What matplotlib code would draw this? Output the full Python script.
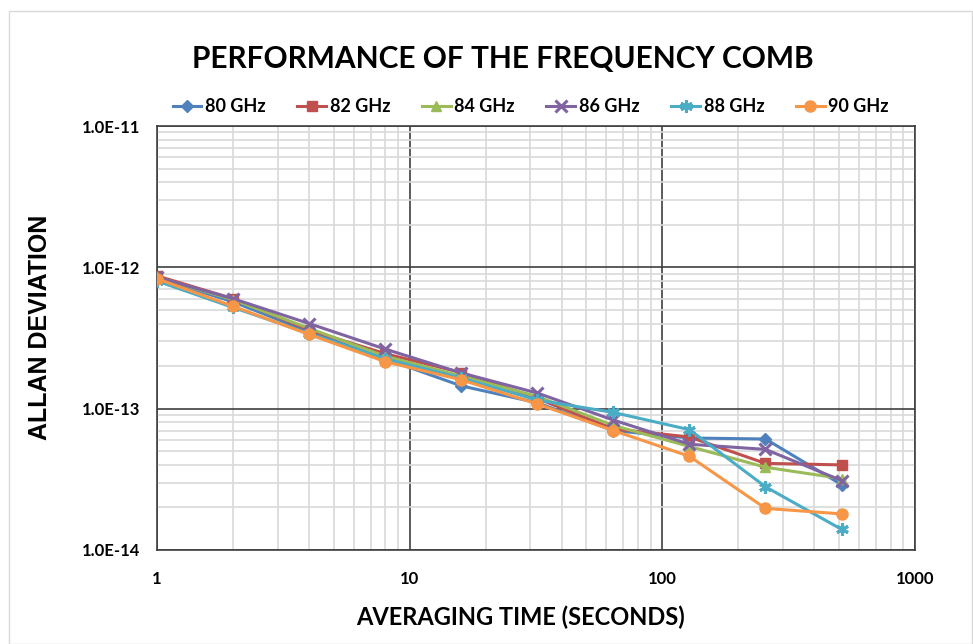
import matplotlib
matplotlib.use("Agg")
import matplotlib.pyplot as plt
from matplotlib.ticker import LogLocator, FixedLocator, NullFormatter
from matplotlib.patches import Rectangle

tau = [1, 2, 4, 8, 16, 32, 64, 128, 256, 512]
series_names = ["80 GHz", "82 GHz", "84 GHz", "86 GHz", "88 GHz", "90 GHz"]
v80 = [8.4e-13, 5.7e-13, 3.5e-13, 2.25e-13, 1.45e-13, 1.10e-13, 7.0e-14, 6.2e-14, 6.1e-14, 2.9e-14]
v82 = [8.7e-13, 6.0e-13, 3.6e-13, 2.45e-13, 1.80e-13, 1.18e-13, 7.2e-14, 6.3e-14, 4.1e-14, 4.0e-14]
v84 = [8.5e-13, 5.9e-13, 3.7e-13, 2.35e-13, 1.70e-13, 1.22e-13, 7.6e-14, 5.4e-14, 3.85e-14, 3.2e-14]
v86 = [8.5e-13, 6.0e-13, 4.0e-13, 2.64e-13, 1.79e-13, 1.29e-13, 8.3e-14, 5.6e-14, 5.15e-14, 3.1e-14]
v88 = [8.0e-13, 5.2e-13, 3.4e-13, 2.25e-13, 1.65e-13, 1.15e-13, 9.4e-14, 7.1e-14, 2.8e-14, 1.4e-14]
v90 = [8.3e-13, 5.3e-13, 3.35e-13, 2.15e-13, 1.60e-13, 1.08e-13, 7.0e-14, 4.6e-14, 1.97e-14, 1.8e-14]
values = [v80, v82, v84, v86, v88, v90]

colors = ["#4F81BD", "#C0504D", "#9BBB59", "#8064A2", "#4BACC6", "#F79646"]
markers = ["D", "s", "^", "x", (6, 2, 0), "o"]
msizes = [6, 7, 7, 8, 9, 8]

xticks = [1, 10, 100, 1000]
xticklabels = ["1", "10", "100", "1000"]
yticks = [1e-14, 1e-13, 1e-12, 1e-11]
yticklabels = ["1.0E-14", "1.0E-13", "1.0E-12", "1.0E-11"]

fig = plt.figure(figsize=(9.73, 6.44), dpi=100)
fig.patches.append(Rectangle((0.009, 0.0), 0.99, 0.983, transform=fig.transFigure,
                             fill=False, edgecolor="#d9d9d9", linewidth=1.0))
ax = fig.add_axes([0.1614, 0.146, 0.7790, 0.6583])

for name, vals, c, m, ms in zip(series_names, values, colors, markers, msizes):
    ax.plot(tau, vals, color=c, marker=m, markersize=ms, linewidth=2.2,
            markeredgewidth=2.2 if (m == "x" or isinstance(m, tuple)) else 1,
            markeredgecolor=c, label=name, zorder=3)

ax.set_xscale("log")
ax.set_yscale("log")
ax.set_xlim(1, 1000)
ax.set_ylim(1e-14, 1e-11)

ax.xaxis.set_major_locator(FixedLocator(xticks))
ax.set_xticklabels(xticklabels)
ax.yaxis.set_major_locator(FixedLocator(yticks))
ax.set_yticklabels(yticklabels)
ax.xaxis.set_minor_locator(LogLocator(base=10, subs=range(2, 10)))
ax.yaxis.set_minor_locator(LogLocator(base=10, subs=range(2, 10)))
ax.xaxis.set_minor_formatter(NullFormatter())
ax.yaxis.set_minor_formatter(NullFormatter())

ax.grid(which="minor", color="#d9d9d9", linewidth=1.2, zorder=0)
ax.grid(which="major", color="#404040", linewidth=1.2, zorder=1)
ax.set_axisbelow(True)
for s in ax.spines.values():
    s.set_color("#404040")
    s.set_linewidth(1.2)

ax.tick_params(which="both", length=0)
ax.tick_params(axis="y", pad=12)
ax.tick_params(axis="x", pad=15)
for lab in ax.get_xticklabels() + ax.get_yticklabels():
    lab.set_fontfamily("Lato")
    lab.set_fontweight("bold")
    lab.set_fontsize(12)

ax.set_xlabel("AVERAGING TIME (SECONDS)", fontfamily="Lato", fontweight="bold",
              fontsize=17)
ax.xaxis.set_label_coords(0.48, -0.132)
ax.set_ylabel("ALLAN DEVIATION", fontfamily="Liberation Sans", fontweight="bold",
              fontsize=18)
ax.yaxis.set_label_coords(-0.138, 0.524)

fig.text(0.5165, 0.908, "PERFORMANCE OF THE FREQUENCY COMB", ha="center", va="center",
         fontfamily="Lato", fontweight="bold", fontsize=21.5)

leg = ax.legend(loc="lower center", bbox_to_anchor=(0.493, 1.0), ncol=6, frameon=False,
                prop={"family": "Lato", "weight": "bold", "size": 13},
                handlelength=1.6, handletextpad=0.2, columnspacing=1.75,
                borderaxespad=0.2)

fig.savefig("out.png", dpi=100, facecolor="white")
